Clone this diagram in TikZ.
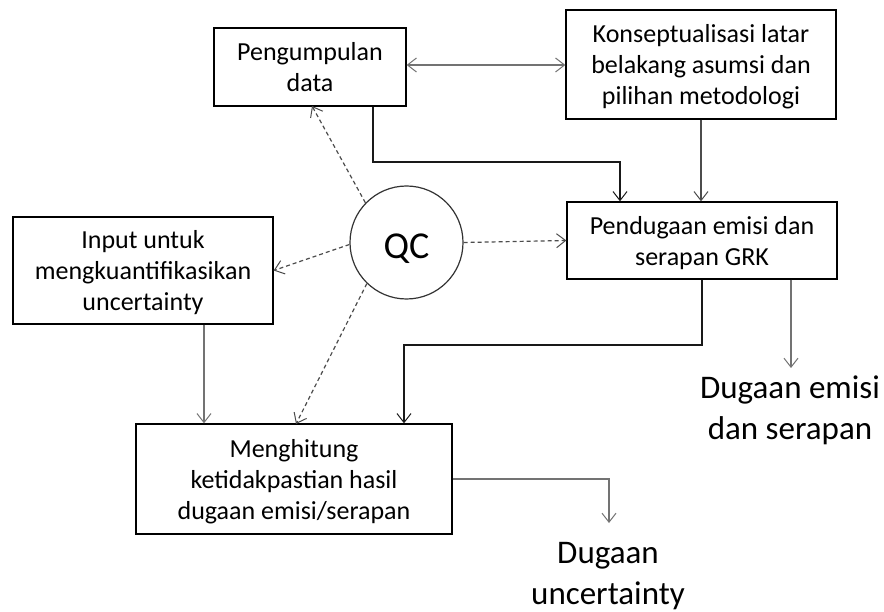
\documentclass[tikz,border=0pt]{standalone}
\usepackage{fontspec}
\setmainfont{Carlito}
\usetikzlibrary{arrows.meta}
\begin{document}
\begin{tikzpicture}[x=1pt,y=-1pt,
  box/.style={draw=black, line width=1.3pt, align=center, inner sep=0pt, text depth=0pt,
    font=\fontsize{26}{31}\selectfont},
  tip/.style={-{Straight Barb[length=9pt,width=14pt,line width=1pt]}},
  blk/.style={tip, draw=black!90, line width=1.3pt},
  gry/.style={tip, draw=black!55, line width=1.2pt},
  dsh/.style={tip, draw=black!70, line width=1.2pt, dash pattern=on 4pt off 3pt},
  outtxt/.style={align=center, inner sep=0pt, font=\fontsize{33}{41}\selectfont}]
\useasboundingbox (0,0) rectangle (884,612);
\fill[white] (0,0) rectangle (884,612);

\node[box, minimum width=192pt, minimum height=78pt] (peng) at (310,67) {Pengumpulan\\data};
\node[box, minimum width=270pt, minimum height=109pt] (kons) at (701,64.5) {Konseptualisasi latar\\belakang asumsi dan\\pilihan metodologi};
\node[box, minimum width=270pt, minimum height=77pt] (pend) at (702,240.5) {Pendugaan emisi dan\\serapan GRK};
\node[box, minimum width=260pt, minimum height=107pt] (input) at (143,270.5) {Input untuk\\mengkuantifikasikan\\uncertainty};
\node[box, minimum width=316pt, minimum height=110pt] (meng) at (294,479) {Menghitung\\ketidakpastian hasil\\dugaan emisi/serapan};
\node[circle, draw=black!80, line width=1.2pt, minimum size=113pt, inner sep=0pt,
  text height=32pt, text depth=0pt,
  font=\fontsize{38}{40}\selectfont] (qc) at (406.5,242.5) {QC};

\node[outtxt, anchor=base] (out1) at (790,439) {Dugaan emisi\\dan serapan};
\node[outtxt, anchor=base] (out2) at (608,604) {Dugaan\\uncertainty};

% coordinates
\coordinate (c1) at (373,162);
\coordinate (c2) at (620,162);
\coordinate (c3) at (702,345);
\coordinate (c4) at (404,345);
\coordinate (o1) at (791,368);
\coordinate (c5) at (204,300);
\coordinate (c6) at (609,479);
\coordinate (o2) at (609,523);
\coordinate (d1) at (312,106);
\coordinate (d3) at (296,424);

% connectors
\draw[gry, {Straight Barb[length=9pt,width=14pt,line width=1pt]}-{Straight Barb[length=9pt,width=14pt,line width=1pt]}] (peng.east |- 0,65) -- (kons.west |- 0,65);
\draw[blk] (c1 |- peng.south) -- (c1) -- (c2) -- (c2 |- pend.north);
\draw[gry, draw=black!70] (kons.south) -- (kons.south |- pend.north);
\draw[blk] (pend.south) -- (c3) -- (c4) -- (c4 |- meng.north);
\draw[gry] (o1 |- pend.south) -- (o1);
\draw[gry] (input.south -| c5) -- (meng.north -| c5);
\draw[gry] (meng.east) -- (c6) -- (o2);

\draw[dsh] (qc.136) -- (d1);
\draw[dsh] (qc.182) -- (input.east);
\draw[dsh] (qc.226) -- (d3);
\draw[dsh] (qc.0) -- (pend.west);
\end{tikzpicture}
\end{document}
